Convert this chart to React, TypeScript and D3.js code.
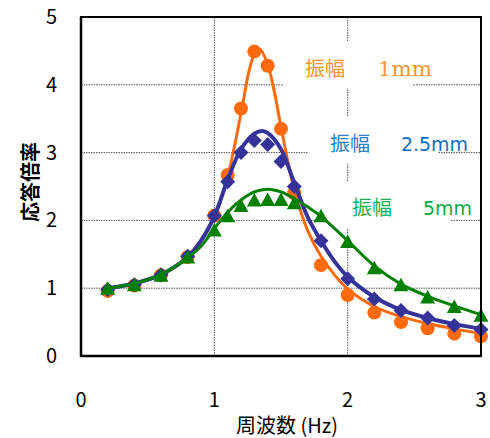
import React from "react";
import * as d3 from "d3";

const xTicks = [0, 1, 2, 3];
const yTicks = [0, 1, 2, 3, 4, 5];

// measured points
const amp1Points: [number, number][] = [
  [0.2, 0.96], [0.4, 1.04], [0.6, 1.19], [0.8, 1.46], [1.0, 2.07], [1.1, 2.67],
  [1.2, 3.65], [1.3, 4.49], [1.4, 4.28], [1.5, 3.35], [1.6, 2.4], [1.8, 1.34],
  [2.0, 0.9], [2.2, 0.64], [2.4, 0.5], [2.6, 0.41], [2.8, 0.33], [3.0, 0.29],
];
const amp25Points: [number, number][] = [
  [0.2, 0.98], [0.4, 1.05], [0.6, 1.2], [0.8, 1.47], [1.0, 2.07], [1.1, 2.57],
  [1.2, 3.0], [1.3, 3.18], [1.4, 3.12], [1.5, 2.87], [1.6, 2.5], [1.8, 1.7],
  [2.0, 1.14], [2.2, 0.84], [2.4, 0.67], [2.6, 0.56], [2.8, 0.45], [3.0, 0.39],
];
const amp5Points: [number, number][] = [
  [0.2, 1.0], [0.4, 1.05], [0.6, 1.19], [0.8, 1.46], [1.0, 1.86], [1.1, 2.07],
  [1.2, 2.22], [1.3, 2.3], [1.4, 2.31], [1.5, 2.31], [1.6, 2.26], [1.8, 2.07],
  [2.0, 1.69], [2.2, 1.3], [2.4, 1.05], [2.6, 0.87], [2.8, 0.73], [3.0, 0.6],
];

// fitted curves
const amp1Curve: [number, number][] = [
  [0.2, 1.0], [0.4, 1.07], [0.6, 1.2], [0.8, 1.46], [0.9, 1.7], [1.0, 2.05],
  [1.1, 2.65], [1.2, 3.58], [1.26, 4.2], [1.3, 4.45], [1.34, 4.53], [1.4, 4.3],
  [1.45, 3.9], [1.5, 3.38], [1.6, 2.45], [1.7, 1.85], [1.8, 1.47], [1.9, 1.2],
  [2.0, 0.99], [2.2, 0.73], [2.4, 0.58], [2.6, 0.48], [2.8, 0.4], [3.0, 0.33],
];
const amp25Curve: [number, number][] = [
  [0.2, 1.0], [0.4, 1.07], [0.6, 1.2], [0.8, 1.46], [0.9, 1.7], [1.0, 2.06],
  [1.1, 2.6], [1.2, 3.05], [1.3, 3.28], [1.36, 3.32], [1.4, 3.29], [1.5, 3.05],
  [1.6, 2.55], [1.7, 2.05], [1.8, 1.7], [1.9, 1.4], [2.0, 1.17], [2.2, 0.87],
  [2.4, 0.68], [2.6, 0.56], [2.8, 0.47], [3.0, 0.4],
];
const amp5Curve: [number, number][] = [
  [0.2, 1.0], [0.4, 1.07], [0.6, 1.2], [0.8, 1.45], [0.9, 1.62], [1.0, 1.88],
  [1.1, 2.12], [1.2, 2.3], [1.3, 2.42], [1.4, 2.46], [1.5, 2.42], [1.6, 2.32],
  [1.7, 2.2], [1.8, 2.06], [2.0, 1.7], [2.2, 1.33], [2.4, 1.06], [2.6, 0.88],
  [2.8, 0.74], [3.0, 0.61],
];

const labels = [
  { pre: "振幅", amt: "1mm", color: "#F7962F", amtColor: "#F7962F", serif: true },
  { pre: "振幅", amt: "2.5mm", color: "#2E80C8", amtColor: "#0F6EBF", serif: false },
  { pre: "振幅", amt: "5mm", color: "#1DB050", amtColor: "#10A84A", serif: false },
];

const W = 490, H = 438;
const L = 81, R = 481, T = 17, B = 356;

export default function App() {
  const x = d3.scaleLinear().domain([0, 3]).range([L, R]);
  const y = d3.scaleLinear().domain([0, 5]).range([B, T]);
  const line = d3
    .line<[number, number]>()
    .x((d) => x(d[0]))
    .y((d) => y(d[1]))
    .curve(d3.curveCatmullRom.alpha(0.5));

  const orange = "#FF6A0E";
  const blue = "#35339A";
  const green = "#008000";

  const tri = (cx: number, cy: number) =>
    `M${cx},${cy - 7}L${cx + 7.5},${cy + 6.5}L${cx - 7.5},${cy + 6.5}Z`;
  const dia = (cx: number, cy: number) =>
    `M${cx},${cy - 7.5}L${cx + 7.5},${cy}L${cx},${cy + 7.5}L${cx - 7.5},${cy}Z`;

  const boxes = [
    { x0: 283, x1: 413, y0: 42, y1: 88, tx: 305, ax: 378, ty: 76 },
    { x0: 308, x1: 438, y0: 117, y1: 163, tx: 330, ax: 401, ty: 151 },
    { x0: 315, x1: 450, y0: 182, y1: 228, tx: 352, ax: 423, ty: 215 },
  ];

  const font = "'Noto Sans CJK JP', 'Noto Sans', sans-serif";

  return (
    <svg
      width={W}
      height={H}
      style={{ position: "absolute", left: 0, top: 0, background: "#fff" }}
    >
      <rect x={0} y={0} width={W} height={H} fill="#fff" />
      {/* gridlines */}
      {yTicks
        .filter((t) => t > 0 && t < 5)
        .map((t) => (
          <line
            key={"gy" + t}
            x1={L}
            x2={R}
            y1={y(t)}
            y2={y(t)}
            stroke="#555"
            strokeWidth={1}
            strokeDasharray="1.5,1"
          />
        ))}
      {xTicks
        .filter((t) => t > 0 && t < 3)
        .map((t) => (
          <line
            key={"gx" + t}
            x1={x(t)}
            x2={x(t)}
            y1={T}
            y2={B}
            stroke="#555"
            strokeWidth={1}
            strokeDasharray="1.5,1"
          />
        ))}
      {/* label backgrounds */}
      {boxes.map((b, i) => (
        <rect key={"bx" + i} x={b.x0} y={b.y0} width={b.x1 - b.x0} height={b.y1 - b.y0} fill="#fff" />
      ))}
      {/* labels */}
      {labels.map((lb, i) => (
        <g key={"lb" + i}>
          <text x={boxes[i].tx} y={boxes[i].ty} fill={lb.color} fontSize={20} fontFamily={font}>
            {lb.pre}
          </text>
          <text
            x={boxes[i].ax}
            y={boxes[i].ty}
            fill={lb.amtColor}
            fontSize={lb.serif ? 21 : 20}
            fontFamily={lb.serif ? "'DejaVu Serif', 'Liberation Serif', serif" : "'DejaVu Sans', sans-serif"}
            textLength={lb.serif ? 54 : lb.amt === "2.5mm" ? 67 : 49}
            lengthAdjust="spacingAndGlyphs"
          >
            {lb.amt}
          </text>
        </g>
      ))}
      {/* series 1mm */}
      <path d={line(amp1Curve) || ""} fill="none" stroke={orange} strokeWidth={3} />
      {amp1Points.map((p, i) => (
        <circle key={"o" + i} cx={x(p[0])} cy={y(p[1])} r={7} fill={orange} />
      ))}
      {/* series 2.5mm */}
      <path d={line(amp25Curve) || ""} fill="none" stroke={blue} strokeWidth={4} />
      {amp25Points.map((p, i) => (
        <path key={"b" + i} d={dia(x(p[0]), y(p[1]))} fill={blue} />
      ))}
      {/* series 5mm */}
      <path d={line(amp5Curve) || ""} fill="none" stroke={green} strokeWidth={3} />
      {amp5Points.map((p, i) => (
        <path key={"g" + i} d={tri(x(p[0]), y(p[1]))} fill={green} />
      ))}
      {/* frame */}
      <rect x={L} y={T} width={R - L} height={B - T} fill="none" stroke="#000" strokeWidth={2} />
      <line x1={L} x2={L} y1={T} y2={B + 1} stroke="#000" strokeWidth={2.5} />
      <line x1={L - 1} x2={R} y1={B} y2={B} stroke="#000" strokeWidth={2.5} />
      {/* y tick labels */}
      {yTicks.map((t) => (
        <text
          key={"yt" + t}
          x={57}
          y={y(t) + 7}
          textAnchor="end"
          fontSize={20}
          fontFamily={font}
          fill="#000"
        >
          {t}
        </text>
      ))}
      {xTicks.map((t) => (
        <text
          key={"xt" + t}
          x={x(t)}
          y={407}
          textAnchor="middle"
          fontSize={20}
          fontFamily={font}
          fill="#000"
        >
          {t}
        </text>
      ))}
      <text x={287} y={433} textAnchor="middle" fontSize={20} fontFamily={font} fill="#000">
        周波数 (Hz)
      </text>
      <text
        transform={`translate(38,182) rotate(-90)`}
        textAnchor="middle"
        fontSize={20}
        fontWeight="bold"
        fontFamily={font}
        fill="#000"
      >
        応答倍率
      </text>
    </svg>
  );
}
